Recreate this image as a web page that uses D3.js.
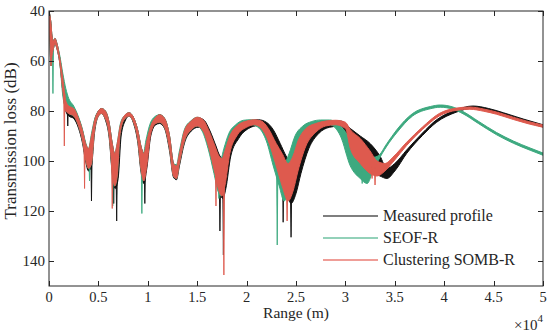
<!DOCTYPE html>
<html><head><meta charset="utf-8">
<script src="https://cdn.jsdelivr.net/npm/d3@7"></script>
<style>body{margin:0;background:#fff}svg{display:block}</style>
</head><body><svg id="c" width="550" height="335"></svg>
<script>
// ---- data (range in units of 1e4 m, transmission loss in dB) ----
const xTicks = [0, 0.5, 1, 1.5, 2, 2.5, 3, 3.5, 4, 4.5, 5];
const xTickLabels = ["0", "0.5", "1", "1.5", "2", "2.5", "3", "3.5", "4", "4.5", "5"];
const yTicks = [40, 60, 80, 100, 120, 140];
const seriesNames = ["Measured profile", "SEOF-R", "Clustering SOMB-R"];

// Measured profile: oscillation band (lower / upper transmission loss)
const meaR = [0,0.01,0.02,0.03,0.045,0.06,0.08,0.11,0.14,0.17,0.2,0.25,0.3,0.34,0.37,0.4,0.43,0.46,0.5,0.53,0.57,0.61,0.64,0.67,0.7,0.73,0.77,0.81,0.86,0.9,0.93,0.96,0.99,1.03,1.08,1.12,1.17,1.22,1.26,1.29,1.32,1.37,1.44,1.51,1.57,1.63,1.69,1.73,1.76,1.79,1.84,1.92,2.02,2.12,2.2,2.27,2.34,2.4,2.45,2.5,2.55,2.63,2.73,2.84,2.95,3.05,3.15,3.25,3.35,3.42,3.5,3.62,3.78,3.92,4.12,4.29,4.45,4.6,4.8,5.0];
const meaMin = [40,42,45,50,52,51,53,59,67,76,78,79,83,88,93,96,91,84,80,79,80,85,93,98,94,86,82,80.7,83,88,94,97,93,86,82.5,81.5,83,90,101,102.5,98,88.5,84,82.7,83.7,88,94,98,99,96,90,86,84,83.5,84.5,87.5,93,98,101,98,93,88,85.5,84.2,84,87,90,93,98,103,101,95.6,88.8,83.6,79.6,78,79,80.7,83.2,85.5];
const meaMax = [41,52,62,58,55,53,55,61,72,80,82,83,87,93,100,104,102,89,82,81,83.5,91,105,111,107,90,84,82,85.5,93,104,109,103,90,85.5,85,87,96,106.5,107.5,102,93,88,86.5,88.5,96,106,113,115,111,98,91,87,85.8,87.5,93,103,111,117,113,105,95,89,86.5,86,92,99,104,106,107,104,97,89.8,84.6,80.5,78.9,79.9,81.6,84.1,86.4];
const meaSpikeR = [0.19, 0.43, 0.655, 0.685, 0.97, 1.73, 1.765, 2.37, 2.45];
const meaSpikeTL = [86, 116, 117, 124, 117, 128, 137.6, 124.5, 130.5];

// SEOF-R
const seoR = [0,0.01,0.02,0.03,0.045,0.06,0.08,0.11,0.14,0.17,0.2,0.25,0.3,0.34,0.37,0.4,0.43,0.46,0.5,0.53,0.57,0.61,0.64,0.665,0.69,0.72,0.76,0.81,0.86,0.9,0.93,0.955,0.98,1.02,1.07,1.12,1.17,1.22,1.26,1.29,1.32,1.37,1.44,1.5,1.55,1.61,1.67,1.71,1.74,1.77,1.82,1.89,1.97,2.05,2.13,2.2,2.27,2.33,2.38,2.43,2.49,2.57,2.66,2.75,2.84,2.95,3.05,3.15,3.22,3.28,3.33,3.42,3.52,3.68,3.86,3.96,4.08,4.19,4.35,4.53,4.7,4.87,5.0];
const seoMin = [40,42,45,50,52,51,53,58,65,71,75,78,82.5,87.5,92.5,95,89,83.5,80,79,80,85,93,97,93,85.5,82,80.7,83,88,94,97,92,85.5,82.3,81.5,83,90,101,101.5,96,87.5,83.8,82.5,83.5,88,94,98,99,95,89,85.5,83.7,83.5,84.5,88,94,98,101,97,90,86,84.2,83.6,83.6,86,91,95,98.5,98.5,98,93,87.5,81,78.2,77.6,78.3,80.2,84.2,88.6,92,94.8,96.8];
const seoMax = [41,52,62,58,55,53,55,61,74,79,81,82,86,92,99,103,101,88,82,81,83,90,104,110,106,89,83.5,82,85,92,103,108,102,89,85,84.5,86.5,95,106,107,101,92,87.5,86,88,95,105,112,114,110,97,90,86.5,85.5,87,92,102,110,116,112,104,94,88.5,86,85.5,90,102,107,109,104,100,94,88.7,82,79.1,78.5,79.2,81.1,85.1,89.5,92.9,95.7,97.7];
const seoSpikeR = [0.04, 0.41, 0.645, 0.94, 1.72, 2.31, 3.12, 3.17];
const seoSpikeTL = [73, 108, 118, 121, 115, 133.6, 106, 109];

// Clustering SOMB-R
const somR = [0,0.01,0.02,0.03,0.045,0.06,0.08,0.11,0.14,0.17,0.2,0.25,0.3,0.34,0.37,0.4,0.43,0.46,0.5,0.53,0.57,0.61,0.64,0.665,0.69,0.72,0.76,0.81,0.86,0.9,0.93,0.96,0.99,1.03,1.08,1.12,1.17,1.22,1.26,1.29,1.32,1.37,1.44,1.5,1.56,1.62,1.68,1.72,1.75,1.78,1.83,1.9,2.0,2.08,2.15,2.22,2.3,2.36,2.42,2.47,2.52,2.6,2.7,2.8,2.9,3.0,3.05,3.15,3.25,3.32,3.4,3.48,3.62,3.78,3.95,4.13,4.26,4.4,4.53,4.7,4.85,5.0];
const somMin = [40,42,45,50,52,51,53,59,67,76,78,79,83,88,93,95,90,84,80,79,80,85,93,97,93,86,82,80.7,83,88,94,97,92,86,82.5,81.5,83,90,101,102,97,88,84,82.5,83.5,88,94,98,99,96,90,86,84,83.5,84,87,93,97,101,98,92,87,85,84,83.7,84.5,87.5,91,96,100,101,98.5,92.5,86.4,81,78.8,78.4,79.2,80.4,82.5,84.2,85.6];
const somMax = [41,52,62,58,55,53,55,61,72,80,81,82,86,92,99,103,101,88,82,81,83,90,104,110,106,89,83.5,82,85,92,103,108,102,89,85,84.5,86.5,95,106,107,101,92,87.5,86,88,95,105,112,114,110,97,90,86.5,85.5,87,92,102,110,116,112,104,94,88.5,86,85.5,87,95,101,105,106,104,100.5,93.8,87.4,82,79.7,79.3,80.1,81.3,83.4,85.1,86.5];
const somSpikeR = [0.155, 0.36, 0.64, 1.69, 1.77, 2.41, 3.27, 3.3];
const somSpikeTL = [94, 111, 119, 118, 145.6, 124, 107, 109.6];

const colors = ["#111111", "#3da97f", "#de5a4e"];
const legendColors = ["#555555", "#6fc2a2", "#ea7d74"];

// ---- drawing ----
const svg = d3.select("#c");
const L = 49, R = 543, T = 11, B = 286;
const x = d3.scaleLinear().domain([0, 5]).range([L, R]);
const y = d3.scaleLinear().domain([40, 150]).range([T, B]);
const font = "'Liberation Serif', 'DejaVu Serif', serif";
const ink = "#262626";

svg.append("defs").append("clipPath").attr("id", "clip")
  .append("rect").attr("x", L).attr("y", T).attr("width", R - L).attr("height", B - T);

const plot = svg.append("g").attr("clip-path", "url(#clip)");

const series = [
  {r: meaR, lo: meaMin, hi: meaMax, sr: meaSpikeR, st: meaSpikeTL},
  {r: seoR, lo: seoMin, hi: seoMax, sr: seoSpikeR, st: seoSpikeTL},
  {r: somR, lo: somMin, hi: somMax, sr: somSpikeR, st: somSpikeTL}
];

series.forEach((s, i) => {
  const pts = s.r.map((r, k) => ({r, lo: s.lo[k], hi: s.hi[k]}));
  const area = d3.area().x(d => x(d.r)).y0(d => y(d.lo)).y1(d => y(d.hi)).curve(d3.curveMonotoneX);
  plot.append("path").datum(pts).attr("d", area)
    .attr("fill", colors[i]).attr("stroke", colors[i]).attr("stroke-width", 1)
    .attr("stroke-linejoin", "round");
  const base = d3.scaleLinear().domain(s.r).range(s.hi);
  plot.selectAll(null).data(s.sr.map((r, k) => ({r, tl: s.st[k]}))).join("path")
    .attr("d", d => {
      const b = base(d.r) - 3;
      return `M${x(d.r - 0.006)},${y(b)}L${x(d.r)},${y(d.tl)}L${x(d.r + 0.006)},${y(b)}Z`;
    })
    .attr("fill", colors[i]).attr("stroke", colors[i]).attr("stroke-width", 0.9);
});

// frame
svg.append("rect").attr("x", L).attr("y", T).attr("width", R - L).attr("height", B - T)
  .attr("fill", "none").attr("stroke", ink).attr("stroke-width", 1);

// ticks (inward, mirrored)
const tl = 5;
const tg = svg.append("g").attr("stroke", ink).attr("stroke-width", 1);
xTicks.forEach(t => {
  const px = Math.round(x(t)) + 0.5;
  tg.append("line").attr("x1", px).attr("x2", px).attr("y1", B).attr("y2", B - tl);
  tg.append("line").attr("x1", px).attr("x2", px).attr("y1", T).attr("y2", T + tl);
});
yTicks.forEach(t => {
  const py = Math.round(y(t)) + 0.5;
  tg.append("line").attr("x1", L).attr("x2", L + tl).attr("y1", py).attr("y2", py);
  tg.append("line").attr("x1", R).attr("x2", R - tl).attr("y1", py).attr("y2", py);
});

// tick labels
svg.append("g").selectAll("text").data(xTicks).join("text")
  .attr("x", d => x(d)).attr("y", 302).attr("text-anchor", "middle")
  .attr("font-family", font).attr("font-size", 14.5).attr("fill", ink)
  .text((d, i) => xTickLabels[i]);
svg.append("g").selectAll("text").data(yTicks).join("text")
  .attr("x", 45).attr("y", d => y(d) + 5).attr("text-anchor", "end")
  .attr("font-family", font).attr("font-size", 15).attr("fill", ink)
  .text(d => d);

// axis labels
svg.append("text").attr("x", (L + R) / 2).attr("y", 318).attr("text-anchor", "middle")
  .attr("font-family", font).attr("font-size", 15.5).attr("fill", ink).text("Range (m)");
svg.append("text").attr("transform", `translate(16,141) rotate(-90)`)
  .attr("text-anchor", "middle").attr("font-family", font).attr("font-size", 17)
  .attr("fill", ink).text("Transmission loss (dB)");

// x10^4 exponent
const ex = svg.append("text").attr("x", 543).attr("y", 330).attr("text-anchor", "end")
  .attr("font-family", font).attr("font-size", 15).attr("fill", ink);
ex.append("tspan").text("\u00d710");
ex.append("tspan").attr("dy", -8).attr("font-size", 11).text("4");

// legend
const lg = svg.append("g");
seriesNames.forEach((n, i) => {
  const ly = 216 + i * 22;
  lg.append("line").attr("x1", 323).attr("x2", 378).attr("y1", ly).attr("y2", ly)
    .attr("stroke", legendColors[i]).attr("stroke-width", 1.5);
  lg.append("text").attr("x", 383).attr("y", ly + 5).attr("font-family", font)
    .attr("font-size", 16).attr("fill", ink).text(n);
});
</script>
</body></html>
